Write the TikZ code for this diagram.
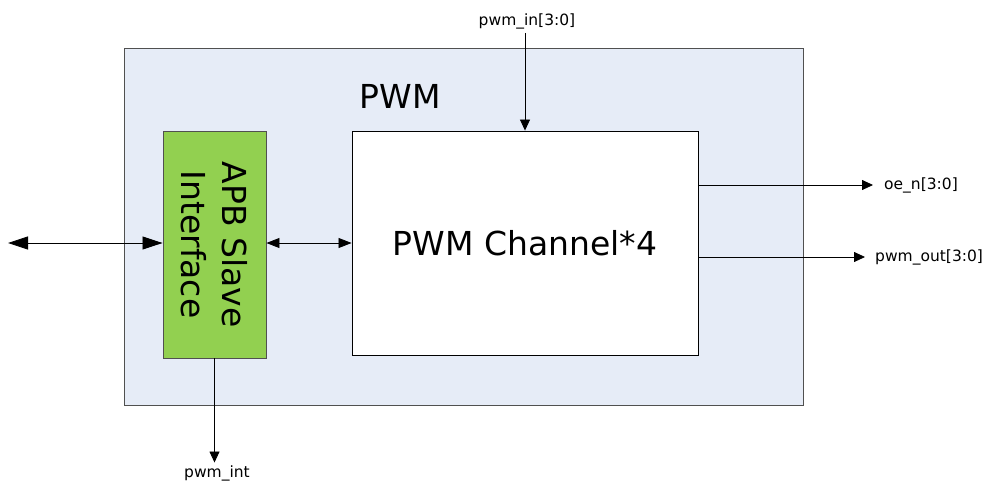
\documentclass[tikz,border=0pt]{standalone}
\usepackage{fontspec}
\setmainfont{DejaVu Sans}
\usetikzlibrary{arrows.meta}
\definecolor{outerfill}{HTML}{E6ECF7}
\definecolor{outerline}{HTML}{505050}
\definecolor{apbgreen}{HTML}{92D050}
\begin{document}
\begin{tikzpicture}[x=1pt,y=-1pt,
  box/.style={draw, inner sep=0pt, line width=0.9pt},
  big/.style={font=\fontsize{33}{41}\selectfont},
  sig/.style={font=\fontsize{15.5}{18}\selectfont, inner sep=0pt},
  wire/.style={line width=0.8pt, -{Triangle[length=11pt,width=10pt]}},
  bus/.style={line width=0.8pt, {Triangle[length=20pt,width=13pt]}-{Triangle[length=20pt,width=13pt]}},
  ibus/.style={line width=0.8pt, {Triangle[length=13pt,width=10pt]}-{Triangle[length=13pt,width=10pt]}}
]
\useasboundingbox (0,0) rectangle (989,482);
\node[box, draw=outerline, fill=outerfill, minimum width=679pt, minimum height=357pt] (outer) at (463.5,226.5) {};
\node[big] (title) at (400,96) {PWM};
\node[box, draw=outerline, fill=apbgreen, minimum width=103pt, minimum height=227pt] (apb) at (214.5,244.5) {};
\node[big, rotate=-90, align=center, inner sep=0pt] (apbtext) at (apb.center) {APB Slave\\Interface};
\node[box, draw=black, fill=white, minimum width=346pt, minimum height=224pt, big] (chan) at (525,243) {PWM Channel*4};
\node[sig, anchor=base] (pin) at (527,25) {pwm\_in[3:0]};
\node[sig, anchor=west] (oen) at (884,185) {oe\_n[3:0]};
\node[sig, anchor=west] (pout) at (875,257) {pwm\_out[3:0]};
\node[sig, anchor=base] (pint) at (217,477.5) {pwm\_int};
\coordinate (ext) at (8,243);
\draw[bus] (ext) -- (ext -| apb.west);
\draw[ibus] (chan.west -| apb.east) -- (chan.west);
\draw[wire] (pin.south -| chan.north) ++(0,4) -- (chan.north);
\draw[wire] (chan.east |- oen.west) -- ([xshift=-11pt]oen.west);
\draw[wire] (chan.east |- pout.west) -- ([xshift=-10pt]pout.west);
\draw[wire, shorten >=3pt] (apb.south) -- (apb.south |- pint.north);
\end{tikzpicture}
\end{document}
